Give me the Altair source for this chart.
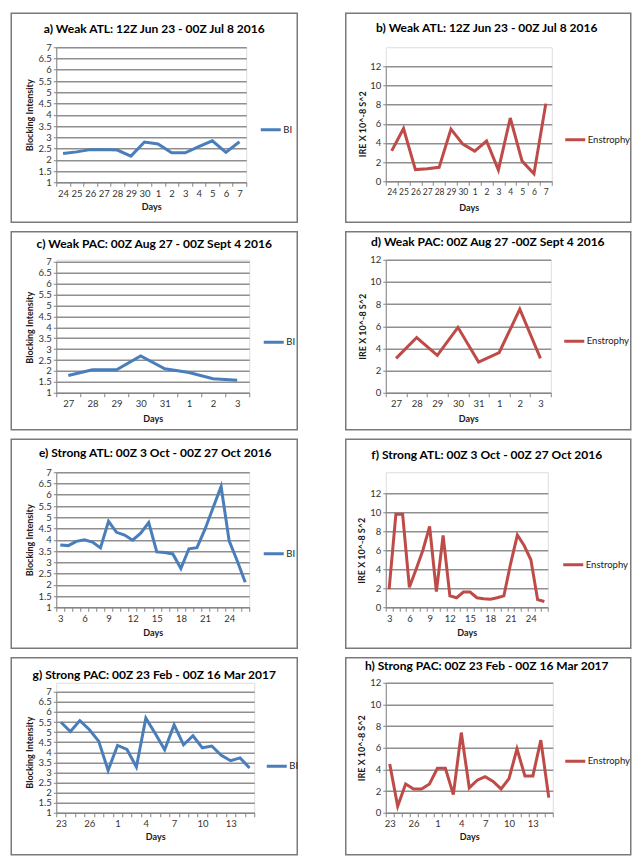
import altair as alt
import pandas as pd

# ---------------- data ----------------
days_a = ["24", "25", "26", "27", "28", "29", "30", "1", "2", "3", "4", "5", "6", "7"]
bi_a = [2.28, 2.35, 2.45, 2.45, 2.43, 2.16, 2.79, 2.70, 2.31, 2.31, 2.58, 2.84, 2.33, 2.80]
ens_b = [3.17, 5.5, 1.22, 1.3, 1.45, 5.44, 3.87, 3.14, 4.2, 1.18, 6.6, 2.1, 0.77, 8.1]

days_c = ["27", "28", "29", "30", "31", "1", "2", "3"]
bi_c = [1.79, 2.05, 2.05, 2.69, 2.1, 1.93, 1.64, 1.57]
ens_d = [3.1, 4.98, 3.37, 5.9, 2.77, 3.63, 7.55, 3.1]

days_e = ["3", "4", "5", "6", "7", "8", "9", "10", "11", "12", "13", "14",
          "15", "16", "17", "18", "19", "20", "21", "22", "23", "24", "25", "26"]
bi_e = [3.77, 3.74, 3.93, 4.0, 3.9, 3.64, 4.82, 4.33, 4.21, 3.98, 4.29, 4.76,
        3.46, 3.43, 3.37, 2.72, 3.6, 3.65, 4.47, 5.42, 6.37, 3.95, 3.07, 2.11]
ens_f = [1.9, 9.8, 9.8, 2.1, 4.0, 6.0, 8.5, 1.65, 7.55, 1.2, 1.0, 1.6,
         1.6, 1.0, 0.9, 0.85, 1.0, 1.2, 4.6, 7.6, 6.5, 5.0, 0.8, 0.6]

days_g = ["23", "24", "25", "26", "27", "28", "1", "2", "3", "4", "5", "6",
          "7", "8", "9", "10", "11", "12", "13", "14", "15"]
bi_g = [5.49, 5.03, 5.57, 5.13, 4.55, 3.1, 4.34, 4.14, 3.27, 5.69, 4.93, 4.12,
        5.36, 4.37, 4.82, 4.22, 4.31, 3.85, 3.58, 3.72, 3.22]
ens_h = [4.5, 0.6, 2.65, 2.2, 2.2, 2.65, 4.1, 4.1, 1.67, 7.4, 2.3, 3.0,
         3.33, 2.9, 2.2, 3.15, 5.9, 3.4, 3.4, 6.7, 1.4]

labels_e = ["3", "6", "9", "12", "15", "18", "21", "24"]
labels_g = ["23", "26", "1", "4", "7", "10", "13"]

bi_ticks = [1, 1.5, 2, 2.5, 3, 3.5, 4, 4.5, 5, 5.5, 6, 6.5, 7]
ire_ticks = [0, 2, 4, 6, 8, 10, 12]

titles = {
    "a": "a) Weak ATL: 12Z Jun 23 - 00Z Jul 8 2016",
    "b": "b) Weak ATL: 12Z Jun 23 - 00Z Jul 8 2016",
    "c": "c) Weak PAC: 00Z Aug 27 - 00Z Sept 4 2016",
    "d": "d) Weak PAC: 00Z Aug 27 -00Z Sept 4 2016",
    "e": "e) Strong ATL: 00Z 3 Oct - 00Z 27 Oct 2016",
    "f": "f) Strong ATL: 00Z 3 Oct - 00Z 27 Oct 2016",
    "g": "g) Strong PAC: 00Z 23 Feb - 00Z 16 Mar 2017",
    "h": "h) Strong PAC: 00Z 23 Feb - 00Z 16 Mar 2017",
}

BLUE = "#4A7EBB"
RED = "#BE4B48"
FONT = "Lato"
GRID = "#8f8f8f"
AXIS = "#858585"

# ---------------- layout (page pixels) ----------------
COL_X = {"L": 55, "R": 382}            # plot left edge of each column
ROW_Y = {1: 46, 2: 256, 3: 466, 4: 674}  # alignment origin of each row
# plot(x1, y0, y1), frame(x0, x1, y0, y1), title(x, y), y-title x, x-title y, legend(x, y), x-label size
geo = {
    "a": dict(col="L", row=1, p=(245, 46, 181), fr=(10, 296, 12, 221), t=(153, 28), yt=28, xt=205, lg=(259, 129), xl=9.5),
    "b": dict(col="R", row=1, p=(548, 65, 180), fr=(342, 627, 12, 221), t=(483, 27), yt=359, xt=206, lg=(561, 139), xl=8.5),
    "c": dict(col="L", row=2, p=(248, 258, 389), fr=(10, 296, 228, 426), t=(153, 240), yt=28, xt=415, lg=(262, 339), xl=9.5),
    "d": dict(col="R", row=2, p=(547, 256, 389), fr=(342, 627, 228, 426), t=(484, 238), yt=359, xt=415, lg=(560, 338), xl=9.5),
    "e": dict(col="L", row=3, p=(248, 466, 601), fr=(10, 296, 433, 642), t=(154, 447), yt=28, xt=626, lg=(262, 548), xl=9.5),
    "f": dict(col="R", row=3, p=(544, 487, 601), fr=(342, 627, 433, 642), t=(483, 449), yt=358, xt=626, lg=(559, 559), xl=9.5),
    "g": dict(col="L", row=4, p=(253, 683, 804), fr=(10, 296, 649, 846), t=(153, 666), yt=28, xt=828, lg=(265, 758), xl=9.5),
    "h": dict(col="R", row=4, p=(549, 674, 804), fr=(342, 627, 649, 846), t=(483, 657), yt=358, xt=828, lg=(561, 753), xl=9.5),
}


def panel(key, days, values, kind, shown=None):
    g = geo[key]
    ox, oy = COL_X[g["col"]], ROW_Y[g["row"]]
    px1, py0, py1 = g["p"]
    w = px1 - ox
    vh = py1 - oy
    top = py0 - oy
    if kind == "BI":
        series, color, ytitle, ydom, yvals = "BI", BLUE, "Blocking Intensity", [1, 7], bi_ticks
    else:
        series, color, ytitle, ydom, yvals = "Enstrophy", RED, "IRE  X 10^-8 S^2", [0, 12], ire_ticks
    df = pd.DataFrame({"day": days, "value": values, "series": [series] * len(days)})
    if shown is None:
        shown = days
    lab_expr = "indexof([" + ",".join("'%s'" % s for s in shown) + "], datum.label) >= 0 ? datum.label : ''"

    fx0, fx1, fy0, fy1 = g["fr"]
    frame = alt.Chart(pd.DataFrame({"k": [key]})).mark_rect(
        filled=False, stroke="#7a7a7a", strokeWidth=1.5
    ).encode(x=alt.value(fx0 - ox), x2=alt.value(fx1 - ox), y=alt.value(fy0 - oy), y2=alt.value(fy1 - oy))

    title = alt.Chart(pd.DataFrame({"title": [titles[key]]})).mark_text(
        font=FONT, fontSize=12, fontWeight="bold", color="#000000", align="center", baseline="middle"
    ).encode(x=alt.value(g["t"][0] - ox), y=alt.value(g["t"][1] - oy), text="title:N")

    line = alt.Chart(df).mark_line(strokeWidth=3).encode(
        x=alt.X("day:N", sort=days, bandPosition=0.5,
                scale=alt.Scale(type="band", paddingInner=0, paddingOuter=0),
                axis=alt.Axis(title="Days", labelExpr=lab_expr, labelAngle=0, tickBand="extent",
                              grid=False, domainColor=AXIS, tickColor=AXIS, tickSize=4,
                              labelPadding=2, labelFont=FONT, labelFontSize=g["xl"], labelColor="#333333",
                              labelOverlap=False,
                              titleFont=FONT, titleFontSize=9, titleFontWeight="bold",
                              titleColor="#1a1a1a", titleY=g["xt"] - py1, titleBaseline="middle")),
        y=alt.Y("value:Q", scale=alt.Scale(domain=ydom, range=[vh, top], nice=False, zero=False),
                axis=alt.Axis(title=ytitle, values=yvals, format="~g", grid=True,
                              gridColor=GRID, gridWidth=1.3, domainColor=AXIS, tickColor=AXIS,
                              tickSize=3, labelPadding=2, labelFont=FONT, labelFontSize=9.5,
                              labelColor="#333333", titleFont=FONT, titleFontSize=9,
                              titleFontWeight="bold", titleColor="#1a1a1a",
                              titleX=g["yt"] - ox, titleY=(py0 + py1) / 2 - oy, titleBaseline="middle")),
        color=alt.Color("series:N", scale=alt.Scale(domain=[series], range=[color]),
                        legend=alt.Legend(orient="none", legendX=g["lg"][0] - ox - 1,
                                          legendY=g["lg"][1] - oy - 12,
                                          title=None, symbolType="stroke", symbolStrokeWidth=3,
                                          symbolSize=400, labelFont=FONT, labelFontSize=9.5,
                                          labelColor="#1a1a1a", labelOffset=1, padding=0)),
    )
    return alt.layer(frame, line, title).properties(width=w, height=vh)


def row(left, right):
    return alt.hconcat(left, right, spacing=44.5).resolve_scale(color="independent")


row1 = row(panel("a", days_a, bi_a, "BI"), panel("b", days_a, ens_b, "ENS"))
row2 = row(panel("c", days_c, bi_c, "BI"), panel("d", days_c, ens_d, "ENS"))
row3 = row(panel("e", days_e, bi_e, "BI", labels_e), panel("f", days_e, ens_f, "ENS", labels_e))
row4 = row(panel("g", days_g, bi_g, "BI", labels_g), panel("h", days_g, ens_h, "ENS", labels_g))

chart = alt.vconcat(row1, row2, row3, row4, spacing=5.5).resolve_scale(
    color="independent"
).properties(
    padding={"left": 1.25, "top": 3.25, "right": 0, "bottom": 0}
).configure_view(strokeWidth=0).configure(background="white")

chart.save("out.html", embed_options={"renderer": "svg", "actions": False})
